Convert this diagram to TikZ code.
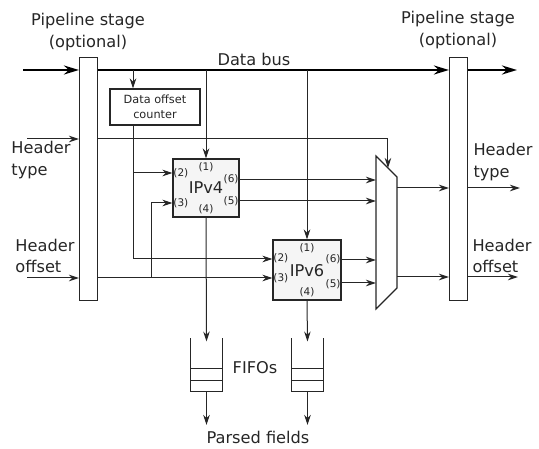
\documentclass[tikz,border=0pt]{standalone}
\usepackage{fontspec}
\setmainfont{DejaVu Sans}
\usetikzlibrary{arrows.meta, calc}

\begin{document}
\begin{tikzpicture}[x=1pt, y=1pt, color=black!85, line width=1pt,
  arr/.style={-{Stealth[length=10pt, width=6.5pt]}},
  bus/.style={line width=2.4pt, black, -{Stealth[length=15pt, width=9pt]}},
  stage/.style={draw, line width=1.1pt, fill=white, minimum width=18, minimum height=243, inner sep=0},
  blk/.style={draw, line width=1.1pt, inner sep=0},
  port/.style={font=\fontsize{10.5}{11}\selectfont, inner sep=0.5},
  big/.style={font=\fontsize{16.2}{21.5}\selectfont, inner sep=0},
  fifo/.style={minimum width=31, minimum height=52, inner sep=0}]
  \useasboundingbox (0,0) rectangle (539,448);

  % pipeline stages
  \node[stage] (stageL) at (88.5,269) {};
  \node[stage] (stageR) at (458.5,269) {};
  \node[big, align=center] (pipeL) at (88,416) {Pipeline stage\\(optional)};
  \node[big, align=center] (pipeR) at (458,418) {Pipeline stage\\(optional)};

  % data bus
  \coordinate (busin) at (23,378);
  \coordinate (busout) at (517,378);
  \draw[bus] (busin) -- (busin -| stageL.west);
  \draw[bus] (busin -| stageL.east) -- (busin -| stageR.west);
  \draw[bus] (busin -| stageR.east) -- (busout);
  \node[big] (buslbl) at (254,389) {Data bus};

  % parsers
  \node[blk, fill=white, minimum width=90, minimum height=36, align=center,
    font=\fontsize{11.3}{15}\selectfont] (counter) at (155,341) {Data offset\\counter};
  \node[blk, fill=black!4, minimum width=66, minimum height=58] (ipv4) at (206,260) {};
  \node[blk, fill=black!4, minimum width=68, minimum height=60] (ipv6) at (307,178) {};
  \node[big] at (206,260) {IPv4};
  \node[big] at (307,177) {IPv6};

  \node[port] at (206,281) {(1)};
  \node[port] at (206,239) {(4)};
  \node[port, anchor=west] at (ipv4.west |- 0,275) {(2)};
  \node[port, anchor=west] at (ipv4.west |- 0,245) {(3)};
  \node[port, anchor=east] at (ipv4.east |- 0,269) {(6)};
  \node[port, anchor=east] at (ipv4.east |- 0,247) {(5)};
  \node[port] at (307,200) {(1)};
  \node[port] at (307,156) {(4)};
  \node[port, anchor=west] at (ipv6.west |- 0,190) {(2)};
  \node[port, anchor=west] at (ipv6.west |- 0,170) {(3)};
  \node[port, anchor=east] at (ipv6.east |- 0,189) {(6)};
  \node[port, anchor=east] at (ipv6.east |- 0,164) {(5)};

  % multiplexer
  \coordinate (m1) at (376,292);
  \coordinate (m2) at (397,271);
  \coordinate (m3) at (397,160);
  \coordinate (m4) at (376,139);
  \draw[line width=1.1pt, fill=white] (m1) -- (m2) -- (m3) -- (m4) -- cycle;
  \coordinate (mtop) at ($(m1)!0.57!(m2)$);

  % bus taps
  \coordinate (cx) at (133,0);
  \draw[arr] (cx |- busin) -- (cx |- counter.north);
  \draw[arr] (ipv4.north |- busin) -- (ipv4.north);
  \draw[arr] (ipv6.north |- busin) -- (ipv6.north);

  % header type
  \coordinate (htin) at (27,309);
  \draw[arr] (htin) -- (htin -| stageL.west);
  \draw[arr] (htin -| stageL.east) -| (mtop);

  % header offset
  \coordinate (hoin) at (27,170);
  \draw[arr] (hoin) -- (hoin -| stageL.west);
  \draw[arr] (hoin -| stageL.east) -- (ipv6.west |- hoin);
  \draw[arr] (151,170) |- (ipv4.west |- 0,245);

  % data offset
  \draw[arr] (cx |- counter.south) |- (ipv6.west |- 0,189);
  \draw[arr] (cx |- 0,275) -- (ipv4.west |- 0,275);

  % into the multiplexer
  \draw[arr] (ipv4.east |- 0,268) -- (m4 |- 0,268);
  \draw[arr] (ipv4.east |- 0,247) -- (m4 |- 0,247);
  \draw[arr] (ipv6.east |- 0,188) -- (m4 |- 0,188);
  \draw[arr] (ipv6.east |- 0,165) -- (m4 |- 0,165);

  % outputs
  \coordinate (htout) at (520,260);
  \coordinate (hoout) at (518,171);
  \draw[arr] (m2 |- htout) -- (stageR.west |- htout);
  \draw[arr] (stageR.east |- htout) -- (htout);
  \draw[arr] (m2 |- hoout) -- (stageR.west |- hoout);
  \draw[arr] (stageR.east |- hoout) -- (hoout);

  \node[big, align=left, anchor=west] (htL) at (11,288) {Header\\type};
  \node[big, align=left, anchor=west] (hoL) at (15,192) {Header\\offset};
  \node[big, align=left, anchor=west] (htR) at (473,286) {Header\\type};
  \node[big, align=left, anchor=west] (hoR) at (472,192) {Header\\offset};

  % FIFOs
  \node[fifo] (fifoA) at (206.5,83) {};
  \node[fifo] (fifoB) at (307.5,83) {};
  \foreach \f in {fifoA, fifoB} {
    \draw (\f.north west) |- (\f.south east) -- (\f.north east);
    \draw ($(\f.south west)+(0,11)$) -- ($(\f.south east)+(0,11)$);
    \draw ($(\f.south west)+(0,23)$) -- ($(\f.south east)+(0,23)$);
  }
  \draw[arr] (ipv4.south) -- ([yshift=-3]fifoA.north);
  \draw[arr] (ipv6.south) -- ([yshift=-3]fifoB.north);
  \draw[arr] (fifoA.south) -- (fifoA.south |- 0,23);
  \draw[arr] (fifoB.south) -- (fifoB.south |- 0,23);
  \node[big] (fifolbl) at (255,80) {FIFOs};
  \node[big] (parsed) at (258,11) {Parsed fields};
\end{tikzpicture}
\end{document}
